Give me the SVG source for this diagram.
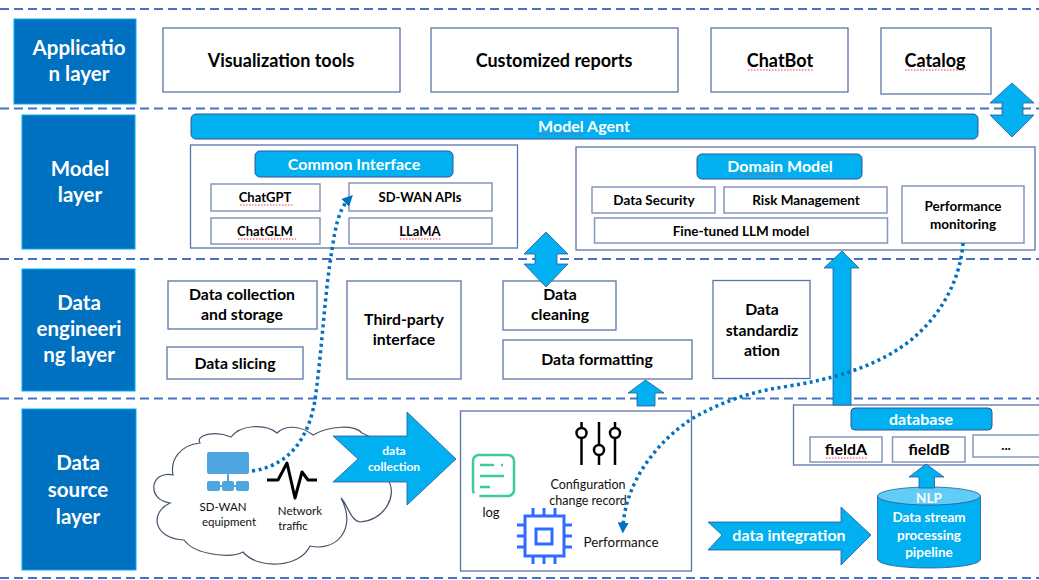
<svg xmlns="http://www.w3.org/2000/svg" width="1039" height="580" viewBox="0 0 1039 580">
<style>
text{font-family:Lato,"Liberation Sans",sans-serif;text-anchor:middle}
.dash{stroke:#4472C4;stroke-width:2;stroke-dasharray:9 5;fill:none}
.layer{fill:#0070C0;stroke:#00B0F0;stroke-width:1}
.lt{fill:#fff;font-weight:700;font-size:20.500px}
.box{fill:#fff;stroke:#5B74A8;stroke-width:1.3}
.in{fill:#fff;stroke:#8496BE;stroke-width:1.5}
.bt{fill:#000;font-weight:700;font-size:13.500px}
.bs{fill:#000;font-weight:700;font-size:13px}
.bm{fill:#000;font-weight:700;font-size:15.800px}
.bb{fill:#000;font-weight:700;font-size:18px}
.bl{fill:#00B0F0;stroke:#2F5597;stroke-width:1}
.wt{fill:#fff;font-weight:700;font-size:16px}
.ar{fill:#00B0F0;stroke:#2F5597;stroke-width:.8}
.sm{fill:#111;font-size:11.500px}
.md{fill:#111;font-size:12.500px}
.dot{fill:none;stroke:#0070C0;stroke-width:3.5;stroke-dasharray:3 3.5}
.sq{fill:none;stroke:#E84040;stroke-width:1;stroke-dasharray:1.5 1.5}
.chip{fill:none;stroke:#2F6BFF;stroke-width:3}
.knob{fill:#fff;stroke:#000;stroke-width:2.500}
</style>
<defs>
<marker id="ah" viewBox="0 0 10 10" refX="5" refY="5" markerWidth="11" markerHeight="11" markerUnits="userSpaceOnUse" orient="auto"><path d="M0 0L10 5L0 10Z" fill="#0070C0"/></marker>
</defs>
<g id="separators">
<path class="dash" d="M0 9H1039M0 108.500H1039M0 259H1039M0 398.500H1039M0 578H1039"/>
</g>
<g id="layer-application"><rect class="layer" x="14" y="19" width="122" height="85"/><text class="lt" x="79" y="55">Applicatio</text><text class="lt" x="79" y="81">n layer</text></g>
<g id="layer-model"><rect class="layer" x="22" y="115" width="113" height="134"/><text class="lt" x="80" y="176">Model</text><text class="lt" x="80" y="202">layer</text></g>
<g id="layer-engineering"><rect class="layer" x="22" y="269" width="113" height="122"/><text class="lt" x="79" y="310">Data</text><text class="lt" x="79" y="336">engineeri</text><text class="lt" x="79" y="362">ng layer</text></g>
<g id="layer-source"><rect class="layer" x="22" y="409" width="114" height="161"/><text class="lt" x="78" y="470">Data</text><text class="lt" x="78" y="497">source</text><text class="lt" x="78" y="524">layer</text></g>
<g id="app-visualization"><rect class="box" x="163" y="28" width="237" height="64"/><text class="bb" x="281" y="67">Visualization tools</text></g>
<g id="app-reports"><rect class="box" x="431" y="28" width="247" height="64"/><text class="bb" x="554" y="67">Customized reports</text></g>
<g id="app-chatbot"><rect class="box" x="711" y="28" width="137" height="64"/><text class="bb" x="780" y="67">ChatBot</text><path class="sq" d="M748 70H813"/></g>
<g id="app-catalog"><rect class="box" x="881" y="28" width="110" height="66"/><text class="bb" x="935" y="67">Catalog</text><path class="sq" d="M905 70H966"/></g>
<g id="model-agent"><rect class="bl" x="191" y="114" width="787" height="25" rx="5"/><text class="wt" x="584" y="132">Model Agent</text><path class="sq" d="M539 134H583"/></g>
<g id="common-interface-panel"><rect class="box" x="190.500" y="145" width="327" height="103"/></g>
<g id="common-interface"><rect class="bl" x="255" y="151" width="198" height="26" rx="5"/><text class="wt" x="354" y="170">Common Interface</text></g>
<g id="chatgpt"><rect class="in" x="211" y="184" width="109" height="27"/><text class="bs" x="265" y="202">ChatGPT</text><path class="sq" d="M240 205H294"/></g>
<g id="chatglm"><rect class="in" x="211" y="218" width="109" height="26"/><text class="bs" x="265" y="236">ChatGLM</text><path class="sq" d="M238 239H296"/></g>
<g id="sdwan-apis"><rect class="in" x="349" y="183" width="143" height="28"/><text class="bs" x="420" y="202">SD-WAN APIs</text></g>
<g id="llama"><rect class="in" x="349" y="218" width="143" height="26"/><text class="bs" x="420" y="236">LLaMA</text><path class="sq" d="M400 239H441"/></g>
<g id="domain-panel"><rect class="box" x="576" y="147" width="459" height="103"/></g>
<g id="domain-model"><rect class="bl" x="697" y="154" width="165" height="25" rx="5"/><text class="wt" x="780" y="172">Domain Model</text><path class="sq" d="M738 174H783"/></g>
<g id="data-security"><rect class="in" x="592" y="187" width="123" height="26"/><text class="bt" x="654" y="205">Data Security</text></g>
<g id="risk-management"><rect class="in" x="724" y="187" width="163" height="26"/><text class="bt" x="806" y="205">Risk Management</text></g>
<g id="fine-tuned"><rect class="in" x="594.500" y="218" width="293" height="25"/><text class="bt" x="741" y="236">Fine-tuned LLM model</text></g>
<g id="performance-monitoring"><rect class="in" x="902" y="186" width="122" height="57"/><text class="bt" x="963" y="211">Performance</text><text class="bt" x="963" y="229">monitoring</text></g>
<g id="data-collection-storage"><rect class="box" x="168" y="281" width="149" height="48"/><text class="bm" x="242" y="300">Data collection</text><text class="bm" x="242" y="320">and storage</text></g>
<g id="data-slicing"><rect class="box" x="167" y="347" width="136" height="32"/><text class="bm" x="235" y="369">Data slicing</text></g>
<g id="third-party"><rect class="box" x="347" y="281" width="114" height="98"/><text class="bm" x="404" y="325">Third-party</text><text class="bm" x="404" y="345">interface</text></g>
<g id="data-cleaning"><rect class="box" x="503" y="281" width="113" height="49"/><text class="bm" x="560" y="300">Data</text><text class="bm" x="560" y="320">cleaning</text></g>
<g id="data-formatting"><rect class="box" x="503" y="340" width="189" height="39"/><text class="bm" x="597" y="365">Data formatting</text></g>
<g id="data-standardization"><rect class="box" x="713" y="280.500" width="97" height="98"/><text class="bm" x="762" y="315">Data</text><text class="bm" x="762" y="336">standardiz</text><text class="bm" x="762" y="356">ation</text></g>
<g id="cloud"><path fill="#fff" stroke="#44546A" stroke-width="1.2" d="M173 475C150 470 146 500 170 503C150 512 152 538 184 540C196 556 232 558 243 552C258 570 300 568 310 546C335 552 358 530 341 498C348 505 350 520 360 522C385 520 398 495 388 480C395 460 380 440 362 433C355 425 330 425 313 435C300 425 285 425 277 433C265 423 240 425 231 437C215 430 195 435 200 443C180 445 170 460 173 475Z"/></g>
<g id="sdwan-equipment"><rect x="207" y="452" width="42" height="22" rx="2" fill="#4DA6E0"/><rect x="207" y="481" width="13" height="10" rx="2" fill="#4DA6E0"/><rect x="222" y="481" width="12" height="10" rx="2" fill="#4DA6E0"/><rect x="236" y="481" width="13" height="10" rx="2" fill="#4DA6E0"/><path d="M228 474V481M214 486H242" stroke="#4DA6E0" stroke-width="2" fill="none"/><text class="sm" x="223" y="511">SD-WAN</text><text class="sm" x="229" y="526">equipment</text></g>
<g id="network-traffic"><path d="M267 480H278L287 463L295 498L302 472L308 480H317" fill="none" stroke="#000" stroke-width="3" stroke-linejoin="round"/><text class="sm" x="300" y="515">Network</text><text class="sm" x="293" y="530">traffic</text></g>
<g id="data-collection-arrow"><path class="ar" d="M333 436H407V412L456 459L407 505V482H333L358 459Z"/><text fill="#fff" font-weight="700" font-size="12" x="394" y="455">data</text><text fill="#fff" font-weight="700" font-size="12" x="394" y="471">collection</text></g>
<g id="sources-panel"><rect class="box" x="460.500" y="411" width="231" height="160"/></g>
<g id="log"><rect x="473" y="455" width="41" height="41" rx="6" fill="none" stroke="#3CCB9A" stroke-width="2.500" stroke-dasharray="105 6"/><path d="M480 465H494M501 465H503M480 476H504M480 487H490" stroke="#3CCB9A" stroke-width="2.500" fill="none"/><text class="md" style="font-size:13px" x="491" y="517">log</text></g>
<g id="config"><path d="M581.500 422V427M581.500 438V465M599 422V444M599 456V465M615 422V427M615 438V465" stroke="#000" stroke-width="2.500" fill="none"/><circle class="knob" cx="581.500" cy="433" r="5"/><circle class="knob" cx="599" cy="450" r="5"/><circle class="knob" cx="615" cy="433" r="5"/><text class="md" x="588" y="489">Configuration</text><text class="md" x="588" y="505">change record</text></g>
<g id="performance"><rect class="chip" x="525" y="516" width="39" height="40"/><rect class="chip" x="536" y="529" width="16" height="15"/><path class="chip" d="M533 508V516M544 508V516M555 508V516M533 556V564M544 556V564M555 556V564M517 525H525M517 536H525M517 547H525M564 525H572M564 536H572M564 547H572"/><text class="md" style="font-size:13.400px" x="621" y="547">Performance</text></g>
<g id="data-integration-arrow"><path class="ar" d="M708 522H841V507L871 535L841 565V550H708L722 535Z"/><text fill="#fff" font-weight="700" font-size="16" x="789" y="541">data integration</text></g>
<g id="database-panel"><rect class="box" x="793.500" y="405" width="250" height="60"/></g>
<g id="database"><rect class="bl" x="851" y="408" width="141" height="22" rx="4"/><text class="wt" x="921" y="425">database</text></g>
<g id="field-a"><rect class="in" x="810" y="437" width="72" height="25"/><text class="wt" style="fill:#000" x="846" y="455">fieldA</text><path class="sq" d="M826 458H867"/></g>
<g id="field-b"><rect class="in" x="892.500" y="437" width="72.500" height="25"/><text class="wt" style="fill:#000" x="929" y="455">fieldB</text></g>
<g id="field-more"><rect class="in" x="973" y="435" width="70" height="22"/><text class="bt" x="1006" y="450">...</text></g>
<g id="pipeline"><path class="ar" d="M877.500 496V559C877.500 571 980.500 571 980.500 559V496Z"/><ellipse cx="929" cy="496" rx="51.500" ry="9" fill="#5FCDF5" stroke="#2F5597" stroke-width=".8"/><g fill="#fff" font-weight="700" font-size="13.500"><text x="929" y="503">NLP</text><text x="929" y="522">Data stream</text><text x="929" y="540">processing</text><text x="929" y="557">pipeline</text></g></g>
<g id="connectors">
<path class="ar" d="M919 488V477H909L926 464L944 477H934.500V488Z"/>
<path class="ar" d="M637 406V393H628L645.500 380L664 393H655V406Z"/>
<path class="ar" d="M833 405V268H824L842 251L859 268H851V405Z"/>
<path class="ar" d="M546 232L568 254H557V264H568L546 287L524 264H535V254H524Z"/>
<path class="ar" d="M1012 83L1034 103H1023V115H1034L1012 137L990 115H1002V103H990Z"/>
<path class="dot" marker-end="url(#ah)" d="M252 471C295 465 310 430 315 400C322 350 325 290 332 250C335 230 338 210 349 199"/>
<path class="dot" marker-end="url(#ah)" d="M963 243C960 285 935 325 900 348C870 368 830 380 783 387C750 392 720 402 690 420C660 440 625 480 623 528"/>
</g>
</svg>
